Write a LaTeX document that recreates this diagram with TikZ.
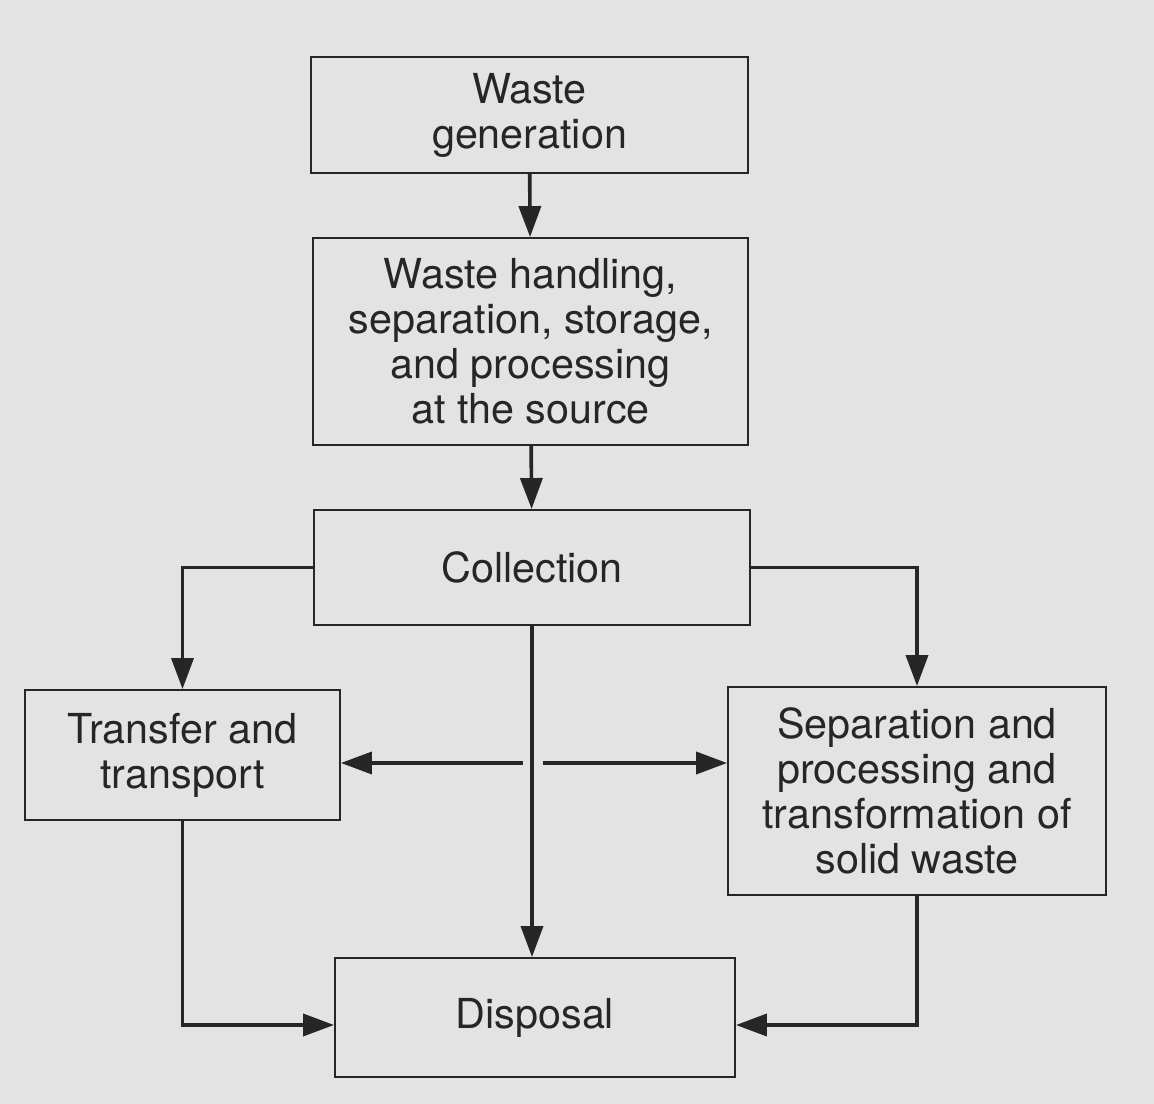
\documentclass[tikz,border=0pt]{standalone}
\usepackage{fontspec}
\setmainfont{TeX Gyre Heros}
\usetikzlibrary{arrows.meta}
\colorlet{page}{gray!22}
\colorlet{ink}{black!85}
\tikzstyle{block}=[draw=ink, line width=1.1pt, text=ink, align=center, inner sep=0pt,
  font=\fontsize{23.5}{25.6}\selectfont]
\tikzstyle{flow}=[draw=ink, line width=2.1pt, -{Triangle[length=0.62cm,width=0.44cm]}]
\def\blocks{{(10.59,-2.30)/gen/8.74/2.32/{Waste\\generation}},
  {(10.61,-6.83)/hand/8.70/4.14/{Waste handling,\\separation, storage,\\and processing\\at the source}},
  {(10.64,-11.35)/coll/8.72/2.30/{Collection}},
  {(3.65,-15.10)/trans/6.30/2.60/{Transfer and\\transport}},
  {(18.34,-15.82)/sep/7.56/4.16/{Separation and\\processing and\\transformation of\\solid waste}},
  {(10.70,-20.35)/disp/8.00/2.38/{Disposal}}}
\begin{document}
\begin{tikzpicture}

  % page of the scan
  \fill[page] (0,0) rectangle (23.08,-22.08);
  \useasboundingbox (0,0) rectangle (23.08,-22.08);

  % the functional elements
  \foreach \pos/\name/\w/\h/\txt in \blocks {
    \node[block, minimum width=\w cm, minimum height=\h cm] (\name) at \pos {\txt};
  }

  % straight down the middle
  \foreach \source/\sink in {gen/hand, hand/coll}
    \path[flow] (\source) -- (\sink);
  \path[flow] (coll.south) -- (coll.south |- disp.north);

  % out to the sides
  \path[flow] (coll.west) -| (trans.north);
  \path[flow] (coll.east) -| (sep.north);

  \coordinate (ml) at (10.46,-15.26);
  \coordinate (mr) at (10.86,-15.26);
  \path[flow] (ml) -- (trans.east |- ml);
  \path[flow] (mr) -- (sep.west |- mr);

  % back to disposal
  \path[flow] (trans.south) |- ([yshift=-0.15cm]disp.west);
  \path[flow] (sep.south) |- ([yshift=-0.15cm]disp.east);

\end{tikzpicture}
\end{document}
